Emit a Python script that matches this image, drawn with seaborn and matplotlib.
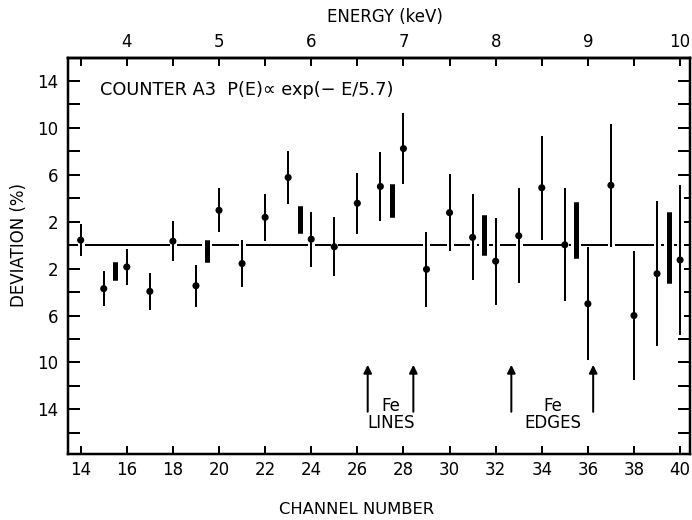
import matplotlib
matplotlib.use('Agg')
import matplotlib.pyplot as plt
import matplotlib.patheffects as pe
from matplotlib.ticker import FixedLocator, FuncFormatter
import seaborn as sns
import pandas as pd
import numpy as np

# ---- data ----
channels = [14, 15, 16, 17, 18, 19, 20, 21, 22, 23, 24, 25, 26, 27,
            28, 29, 30, 31, 32, 33, 34, 35, 36, 37, 38, 39, 40]
deviation = [0.43, -3.71, -1.86, -3.94, 0.34, -3.46, 2.97, -1.57, 2.37, 5.77,
             0.51, -0.14, 3.57, 5.0, 8.23, -2.06, 2.77, 0.66, -1.37, 0.8,
             4.89, 0.03, -5.0, 5.1, -6.0, -2.43, -1.26]
errors = [1.36, 1.47, 1.51, 1.56, 1.69, 1.79, 1.86, 2.03, 2.0, 2.29,
          2.34, 2.5, 2.61, 2.9, 3.0, 3.17, 3.3, 3.67, 3.71, 4.04,
          4.41, 4.83, 4.81, 5.26, 5.46, 6.17, 6.4]

bin_centers = [15.5, 19.5, 23.5, 27.5, 31.5, 35.5, 39.5]
bin_dev = [-2.2, -0.49, 2.2, 3.8, 0.86, 1.31, -0.17]
bin_err = [0.73, 0.91, 1.16, 1.43, 1.71, 2.4, 3.03]

arrow_channels = [26.45, 28.43, 32.68, 36.23]
arrow_tail, arrow_head = -14.2, -10.2

x_ticks = list(range(14, 41, 2))
y_ticks = list(range(-16, 15, 2))
y_labelled = [2, 6, 10, 14]
energy_ticks = [3.5 + 0.5 * i for i in range(14)]

title_text = "COUNTER A3  P(E)\u221d exp(\u2212 E/5.7)"

df = pd.DataFrame({"channel": channels, "deviation": deviation, "err": errors})

# ---- style ----
sns.set_theme(style="ticks")
plt.rcParams['font.family'] = ['DejaVu Sans']
for k in ['text.color', 'axes.labelcolor', 'xtick.color', 'ytick.color', 'axes.edgecolor']:
    plt.rcParams[k] = 'black'
px = 0.72  # points per pixel at dpi 100

fig = plt.figure(figsize=(6.92, 5.2), dpi=100)
ax = fig.add_axes([68 / 692, 1 - 454 / 520, 622 / 692, 396 / 520])

ax.set_xlim(13.45, 40.43)
ax.set_ylim(-17.8, 15.95)

# zero reference line
ax.axhline(0, color='black', lw=2 * px, zorder=1)

halo = lambda w: [pe.withStroke(linewidth=w, foreground='white'), pe.Normal()]

# error bars of individual channels
ax.vlines(df["channel"], df["deviation"] - df["err"], df["deviation"] + df["err"],
          color='black', lw=2 * px, zorder=2, path_effects=halo(7 * px))
# thick bars (binned)
ax.vlines(bin_centers, np.array(bin_dev) - np.array(bin_err),
          np.array(bin_dev) + np.array(bin_err),
          color='black', lw=5 * px, zorder=2, path_effects=halo(10 * px))

sns.scatterplot(data=df, x="channel", y="deviation", ax=ax, color='black',
                s=26, edgecolor='none', zorder=3, legend=False)

# arrows
for c in arrow_channels:
    ax.annotate("", xy=(c, arrow_head), xytext=(c, arrow_tail),
                arrowprops=dict(arrowstyle='-|>', color='black', lw=2 * px,
                                mutation_scale=12, shrinkA=0, shrinkB=0))

fs = 12
tfs = 12
ax.text(27.45, -14.45, "Fe\nLINES", ha='center', va='center', fontsize=fs,
        multialignment='center', linespacing=0.95)
ax.text(34.5, -14.45, "Fe\nEDGES", ha='center', va='center', fontsize=fs,
        multialignment='center', linespacing=0.95)
ax.text(14.84, 13.2, title_text, ha='left', va='center', fontsize=12.8)

# axes styling
for s in ax.spines.values():
    s.set_linewidth(2.5 * px)
    s.set_color('black')
    s.set_visible(True)

ax.xaxis.set_major_locator(FixedLocator(x_ticks))
ax.yaxis.set_major_locator(FixedLocator(y_ticks))
ax.yaxis.set_major_formatter(FuncFormatter(
    lambda v, p: str(abs(int(round(v)))) if abs(int(round(v))) in y_labelled else ""))
ax.xaxis.set_major_formatter(FuncFormatter(lambda v, p: str(int(round(v)))))

ax.tick_params(axis='x', direction='in', length=8 * px, width=2 * px,
               labelsize=tfs, pad=7 * px, top=False, bottom=True, colors='black')
ax.tick_params(axis='y', which='both', direction='in', length=12 * px, width=2 * px,
               labelsize=tfs, pad=10 * px, left=True, right=True, labelright=False,
               colors='black')
ax.set_xlabel("")
ax.set_ylabel("")

secax = ax.secondary_xaxis('top', functions=(lambda c: c / 4.0, lambda e: e * 4.0))
secax.xaxis.set_major_locator(FixedLocator(energy_ticks))
secax.xaxis.set_major_formatter(FuncFormatter(
    lambda v, p: str(int(round(v))) if abs(v - round(v)) < 1e-6 else ""))
secax.tick_params(axis='x', direction='in', length=8 * px, width=2 * px,
                  labelsize=tfs, pad=7 * px, colors='black')
secax.spines['top'].set_linewidth(2.5 * px)

fig.text(357 / 692, 1 - 510 / 520, "CHANNEL NUMBER", ha='center', va='center', fontsize=11.8)
fig.text(385 / 692, 1 - 17 / 520, "ENERGY (keV)", ha='center', va='center', fontsize=fs)
fig.text(19 / 692, 1 - 245 / 520, "DEVIATION (%)", ha='center', va='center',
         rotation=90, fontsize=fs)

fig.savefig("out.png", dpi=100)
